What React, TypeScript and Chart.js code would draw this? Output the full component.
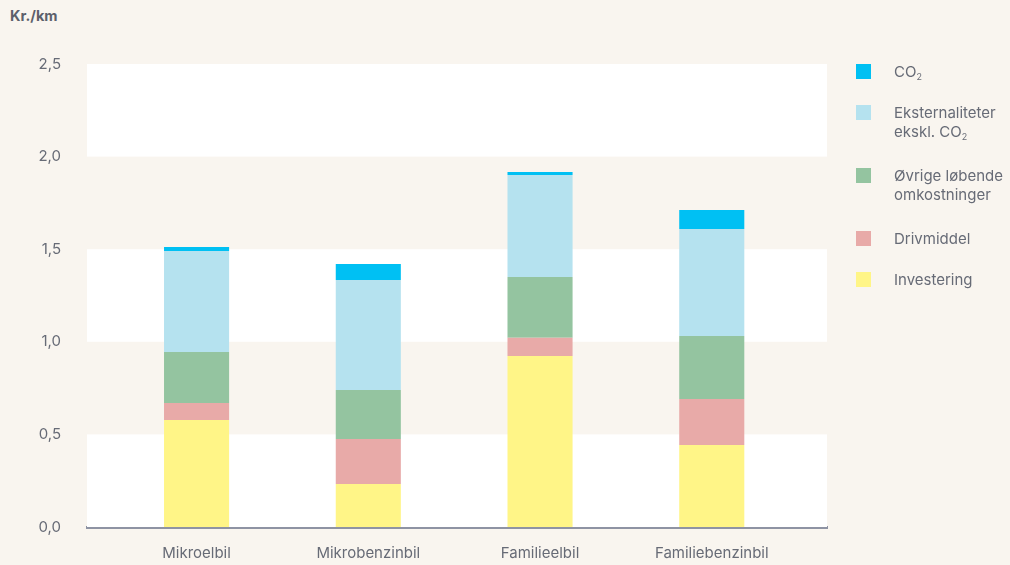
import React, { useEffect, useRef } from "react";
import { Chart, registerables } from "chart.js";

Chart.register(...registerables);

const categories = ["Mikroelbil", "Mikrobenzinbil", "Familieelbil", "Familiebenzinbil"];
const investering = [0.578, 0.232, 0.923, 0.443];
const drivmiddel = [0.092, 0.243, 0.099, 0.248];
const oevrige = [0.275, 0.265, 0.328, 0.34];
const eksternaliteter = [0.545, 0.594, 0.55, 0.578];
const co2 = [0.022, 0.086, 0.017, 0.103];
const yTicks = [0, 0.5, 1, 1.5, 2, 2.5];

const series = [
  { key: "inv", label: "Investering", sub: null as null | string[], data: investering, color: "#fff587" },
  { key: "driv", label: "Drivmiddel", sub: null, data: drivmiddel, color: "#e8aaa8" },
  { key: "ovr", label: "Øvrige løbende\nomkostninger", sub: null, data: oevrige, color: "#94c4a0" },
  { key: "ext", label: "Eksternaliteter\nekskl. CO", sub: ["2"], data: eksternaliteter, color: "#b5e2ef" },
  { key: "co2", label: "CO", sub: ["2"], data: co2, color: "#00c0f3" },
];

const TEXT = "#676b76";
const FONT = "Inter, 'Noto Sans', sans-serif";

const bandPlugin = {
  id: "bands",
  beforeDatasetsDraw(chart: any) {
    const { ctx, chartArea, scales } = chart;
    const y = scales.y;
    ctx.save();
    ctx.fillStyle = "#ffffff";
    for (let i = 0; i + 1 < yTicks.length; i += 2) {
      const top = y.getPixelForValue(yTicks[i + 1]);
      const bottom = y.getPixelForValue(yTicks[i]);
      ctx.fillRect(chartArea.left, top, chartArea.right - chartArea.left, bottom - top);
    }
    ctx.restore();
  },
};

function LegendLabel({ text, sub }: { text: string; sub: string[] | null }) {
  const lines = text.split("\n");
  return (
    <>
      {lines.map((ln, i) => (
        <div key={i}>
          {ln}
          {i === lines.length - 1 && sub ? <sub style={{ fontSize: 9, verticalAlign: -3 }}>{sub[0]}</sub> : null}
        </div>
      ))}
    </>
  );
}

export default function App() {
  const ref = useRef<HTMLCanvasElement | null>(null);

  useEffect(() => {
    if (!ref.current) return;
    const chart = new Chart(ref.current, {
      type: "bar",
      data: {
        datasets: series.map((s) => ({
          label: s.label,
          data: s.data.map((v, i) => ({ x: i, y: v })),
          backgroundColor: s.color,
          borderWidth: 0,
          categoryPercentage: 1,
          barPercentage: 0.379,
          stack: "a",
        })),
      },
      options: {
        animation: false,
        responsive: true,
        maintainAspectRatio: false,
        layout: { padding: { top: 64, right: 183, bottom: 0, left: 0 } },
        plugins: { legend: { display: false }, tooltip: { enabled: false }, title: { display: false } },
        scales: {
          x: {
            type: "linear",
            stacked: true,
            offset: false,
            min: -0.638,
            max: 3.671,
            grid: { display: false, drawTicks: false, offset: false },
            border: { display: true, color: "#8e93a3", width: 3 },
            afterFit: (s: any) => {
              s.height = 38;
            },
            ticks: {
              stepSize: 1,
              includeBounds: false,
              autoSkip: false,
              maxRotation: 0,
              padding: 17,
              color: TEXT,
              font: { family: FONT, size: 15 },
              callback: (v: any) => categories[v as number] ?? "",
            },
          },
          y: {
            stacked: true,
            min: 0,
            max: 2.5,
            grid: { display: false, drawTicks: false },
            border: { display: false },
            afterFit: (s: any) => {
              s.width = 87;
            },
            ticks: {
              stepSize: 0.5,
              padding: 26,
              color: TEXT,
              font: { family: FONT, size: 15 },
              callback: (v: any) => Number(v).toFixed(1).replace(".", ","),
            },
          },
        },
      },
      plugins: [bandPlugin],
    } as any);
    return () => chart.destroy();
  }, []);

  const legendTops = [272, 231, 168, 105, 64];

  return (
    <div
      style={{
        position: "absolute",
        left: 0,
        top: 0,
        width: 1010,
        height: 565,
        background: "#f9f5ef",
        fontFamily: FONT,
        overflow: "hidden",
      }}
    >
      <div style={{ position: "absolute", left: 10, top: 7, fontSize: 14.5, fontWeight: 700, color: "#5c606b" }}>Kr./km</div>
      <canvas ref={ref} style={{ position: "absolute", left: 0, top: 0, width: 1010, height: 565 }} />
      {series.map((s, i) => (
        <div key={s.key} style={{ position: "absolute", left: 856, top: legendTops[i] }}>
          <div style={{ position: "absolute", left: 0, top: 0, width: 15, height: 15, background: s.color }} />
          <div
            style={{
              position: "absolute",
              left: 38,
              top: -2,
              fontSize: 15,
              lineHeight: "19px",
              color: TEXT,
              whiteSpace: "nowrap",
            }}
          >
            <LegendLabel text={s.label} sub={s.sub} />
          </div>
        </div>
      ))}
    </div>
  );
}
